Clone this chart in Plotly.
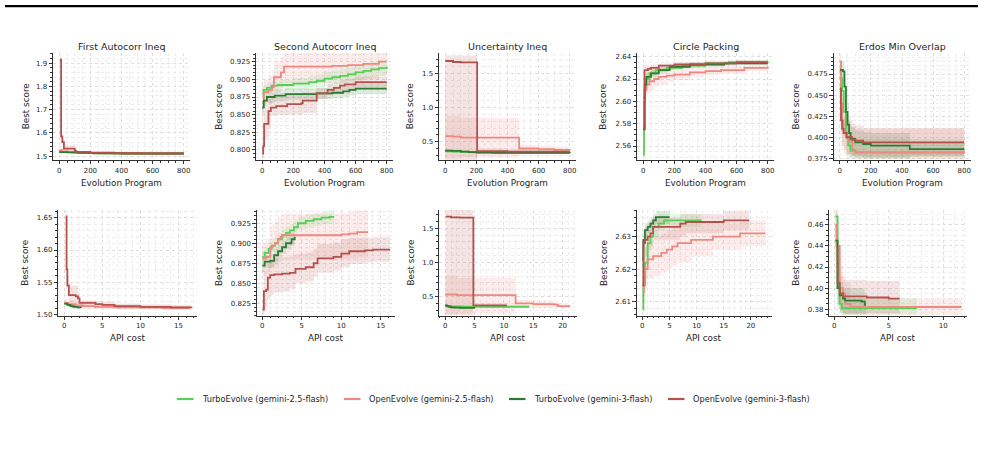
import plotly.graph_objects as go

# ---------------- data ----------------
SERIES = ["te25", "oe25", "te3", "oe3"]
SERIES_LABELS = {
    "te25": "TurboEvolve (gemini-2.5-flash)",
    "oe25": "OpenEvolve (gemini-2.5-flash)",
    "te3": "TurboEvolve (gemini-3-flash)",
    "oe3": "OpenEvolve (gemini-3-flash)",
}
TITLES = ["First Autocorr Ineq", "Second Autocorr Ineq", "Uncertainty Ineq",
          "Circle Packing", "Erdos Min Overlap"]
X_LABELS = ["Evolution Program", "API cost"]
Y_LABEL = "Best score"

# each series: (x, y, lower band, upper band)
FIRST_EVO = {
    "te25": ([0, 30, 80, 150, 250, 400, 800],
             [1.518, 1.517, 1.515, 1.513, 1.512, 1.511, 1.511],
             [1.516, 1.515, 1.513, 1.511, 1.510, 1.509, 1.509],
             [1.520, 1.519, 1.517, 1.515, 1.514, 1.513, 1.513]),
    "oe25": ([0, 20, 60, 100, 200, 350, 600, 800],
             [1.525, 1.520, 1.518, 1.515, 1.513, 1.512, 1.511, 1.511],
             [1.515, 1.514, 1.513, 1.511, 1.510, 1.509, 1.509, 1.509],
             [1.540, 1.530, 1.525, 1.520, 1.517, 1.515, 1.513, 1.513]),
    "te3": ([0, 50, 120, 220, 400, 800],
            [1.517, 1.516, 1.514, 1.512, 1.511, 1.511],
            [1.515, 1.514, 1.512, 1.510, 1.509, 1.509],
            [1.519, 1.518, 1.516, 1.514, 1.513, 1.513]),
    "oe3": ([5, 12, 20, 30, 100, 110, 200, 350, 500, 800],
            [1.915, 1.585, 1.560, 1.532, 1.522, 1.518, 1.515, 1.512, 1.511, 1.511],
            [1.900, 1.560, 1.545, 1.520, 1.515, 1.513, 1.511, 1.510, 1.509, 1.509],
            [1.930, 1.610, 1.575, 1.545, 1.530, 1.522, 1.518, 1.515, 1.513, 1.513]),
}
SECOND_EVO = {
    "te25": ([0, 10, 30, 60, 100, 200, 300, 350, 400, 450, 500, 550, 600, 650, 700, 750, 800],
             [0.880, 0.885, 0.888, 0.891, 0.892, 0.894, 0.896, 0.898, 0.901, 0.903, 0.905, 0.907, 0.910, 0.912, 0.914, 0.916, 0.918],
             [0.872, 0.877, 0.881, 0.884, 0.885, 0.886, 0.887, 0.889, 0.891, 0.893, 0.895, 0.896, 0.899, 0.901, 0.903, 0.905, 0.907],
             [0.888, 0.893, 0.895, 0.898, 0.899, 0.902, 0.905, 0.907, 0.911, 0.913, 0.915, 0.918, 0.921, 0.923, 0.925, 0.927, 0.929]),
    "oe25": ([0, 10, 40, 65, 75, 120, 140, 300, 450, 550, 650, 750, 800],
             [0.868, 0.882, 0.885, 0.889, 0.903, 0.910, 0.918, 0.918, 0.919, 0.920, 0.922, 0.925, 0.925],
             [0.845, 0.860, 0.865, 0.870, 0.880, 0.888, 0.895, 0.895, 0.897, 0.898, 0.900, 0.905, 0.905],
             [0.890, 0.900, 0.905, 0.910, 0.925, 0.932, 0.937, 0.937, 0.937, 0.937, 0.938, 0.940, 0.940]),
    "te3": ([0, 10, 30, 80, 150, 350, 450, 520, 560, 600, 800],
            [0.860, 0.870, 0.875, 0.877, 0.879, 0.880, 0.881, 0.883, 0.885, 0.887, 0.887],
            [0.852, 0.862, 0.867, 0.869, 0.871, 0.872, 0.873, 0.875, 0.877, 0.879, 0.879],
            [0.868, 0.878, 0.883, 0.885, 0.887, 0.888, 0.889, 0.891, 0.893, 0.895, 0.895]),
    "oe3": ([0, 6, 12, 40, 55, 90, 160, 250, 260, 350, 420, 460, 500, 530, 600, 800],
            [0.795, 0.805, 0.837, 0.855, 0.860, 0.862, 0.865, 0.866, 0.870, 0.880, 0.885, 0.888, 0.891, 0.893, 0.896, 0.896],
            [0.785, 0.790, 0.815, 0.830, 0.848, 0.850, 0.850, 0.850, 0.852, 0.872, 0.877, 0.880, 0.883, 0.885, 0.888, 0.888],
            [0.805, 0.820, 0.860, 0.872, 0.875, 0.876, 0.878, 0.879, 0.882, 0.888, 0.893, 0.896, 0.899, 0.901, 0.904, 0.904]),
}
UNCERT_EVO = {
    "te25": ([0, 50, 100, 200, 400, 800],
             [0.360, 0.355, 0.350, 0.345, 0.342, 0.340],
             [0.340, 0.335, 0.330, 0.330, 0.328, 0.326],
             [0.380, 0.375, 0.370, 0.360, 0.356, 0.354]),
    "oe25": ([0, 50, 100, 475, 600, 700, 800],
             [0.580, 0.575, 0.560, 0.400, 0.390, 0.380, 0.370],
             [0.250, 0.250, 0.270, 0.330, 0.330, 0.330, 0.330],
             [0.880, 0.880, 0.850, 0.450, 0.440, 0.430, 0.410]),
    "te3": ([0, 40, 100, 150, 200, 300, 800],
            [0.370, 0.365, 0.355, 0.348, 0.340, 0.336, 0.335],
            [0.350, 0.345, 0.337, 0.330, 0.325, 0.322, 0.320],
            [0.390, 0.385, 0.373, 0.366, 0.355, 0.350, 0.350]),
    "oe3": ([0, 50, 100, 205, 400, 800],
            [1.680, 1.665, 1.660, 0.360, 0.355, 0.355],
            [0.230, 0.230, 0.230, 0.330, 0.330, 0.330],
            [1.760, 1.760, 1.760, 0.400, 0.390, 0.390]),
}
CIRCLE_EVO = {
    "te25": ([0, 5, 10, 20, 40, 80, 150, 250, 400, 550, 800],
             [2.552, 2.600, 2.612, 2.620, 2.625, 2.628, 2.630, 2.632, 2.634, 2.635, 2.636],
             [2.545, 2.590, 2.605, 2.615, 2.621, 2.625, 2.628, 2.630, 2.632, 2.634, 2.635],
             [2.560, 2.610, 2.619, 2.625, 2.629, 2.631, 2.632, 2.634, 2.636, 2.637, 2.637]),
    "oe25": ([0, 8, 20, 40, 70, 100, 150, 200, 300, 400, 450, 500, 650, 800],
             [2.603, 2.610, 2.615, 2.618, 2.620, 2.622, 2.623, 2.624, 2.626, 2.627, 2.627, 2.628, 2.630, 2.631],
             [2.595, 2.600, 2.607, 2.610, 2.613, 2.615, 2.617, 2.619, 2.622, 2.623, 2.624, 2.625, 2.627, 2.628],
             [2.610, 2.620, 2.623, 2.626, 2.627, 2.629, 2.629, 2.629, 2.630, 2.631, 2.631, 2.632, 2.633, 2.634]),
    "te3": ([0, 10, 20, 50, 100, 170, 300, 520, 800],
            [2.575, 2.615, 2.622, 2.625, 2.628, 2.631, 2.633, 2.634, 2.634],
            [2.570, 2.610, 2.618, 2.622, 2.626, 2.629, 2.631, 2.633, 2.633],
            [2.580, 2.620, 2.626, 2.628, 2.630, 2.633, 2.635, 2.635, 2.635]),
    "oe3": ([0, 8, 30, 50, 100, 200, 400, 600, 800],
            [2.576, 2.628, 2.629, 2.630, 2.632, 2.633, 2.634, 2.635, 2.635],
            [2.570, 2.622, 2.624, 2.626, 2.628, 2.630, 2.632, 2.633, 2.633],
            [2.585, 2.632, 2.632, 2.633, 2.634, 2.635, 2.636, 2.637, 2.637]),
}
ERDOS_EVO = {
    "te25": ([0, 15, 25, 40, 55, 70, 100, 800],
             [0.470, 0.455, 0.430, 0.400, 0.390, 0.384, 0.382, 0.382],
             [0.460, 0.430, 0.400, 0.380, 0.375, 0.375, 0.375, 0.375],
             [0.480, 0.475, 0.460, 0.420, 0.405, 0.400, 0.398, 0.398]),
    "oe25": ([0, 8, 15, 25, 40, 60, 80, 100, 800],
             [0.490, 0.440, 0.420, 0.405, 0.400, 0.395, 0.385, 0.382, 0.381],
             [0.470, 0.410, 0.390, 0.380, 0.378, 0.375, 0.374, 0.374, 0.374],
             [0.500, 0.470, 0.450, 0.430, 0.420, 0.415, 0.410, 0.410, 0.410]),
    "te3": ([0, 20, 30, 40, 50, 60, 70, 100, 150, 200, 450, 800],
            [0.480, 0.478, 0.460, 0.430, 0.415, 0.405, 0.398, 0.394, 0.392, 0.390, 0.386, 0.386],
            [0.470, 0.460, 0.430, 0.400, 0.390, 0.380, 0.378, 0.376, 0.375, 0.375, 0.378, 0.378],
            [0.490, 0.490, 0.480, 0.460, 0.440, 0.425, 0.412, 0.408, 0.406, 0.405, 0.394, 0.394]),
    "oe3": ([0, 8, 15, 25, 45, 80, 100, 150, 800],
            [0.458, 0.420, 0.410, 0.405, 0.400, 0.397, 0.396, 0.394, 0.394],
            [0.440, 0.400, 0.390, 0.385, 0.380, 0.378, 0.378, 0.377, 0.377],
            [0.475, 0.440, 0.430, 0.425, 0.420, 0.416, 0.414, 0.411, 0.411]),
}
FIRST_API = {
    "te25": ([0, 0.5, 1.0, 1.6],
             [1.517, 1.515, 1.513, 1.512],
             [1.515, 1.513, 1.511, 1.510],
             [1.519, 1.517, 1.515, 1.514]),
    "oe25": ([0, 0.5, 1.5, 2.5, 4, 7, 10, 13, 16.5],
             [1.518, 1.516, 1.514, 1.513, 1.512, 1.511, 1.511, 1.510, 1.510],
             [1.512, 1.511, 1.510, 1.509, 1.508, 1.508, 1.508, 1.507, 1.507],
             [1.524, 1.522, 1.519, 1.517, 1.516, 1.515, 1.514, 1.513, 1.513]),
    "te3": ([0, 0.4, 0.8, 1.2, 1.7, 2.2],
            [1.517, 1.515, 1.513, 1.512, 1.511, 1.510],
            [1.515, 1.513, 1.511, 1.510, 1.509, 1.508],
            [1.519, 1.517, 1.515, 1.514, 1.513, 1.512]),
    "oe3": ([0.2, 0.3, 0.4, 0.6, 1.5, 1.8, 2.0, 4.1, 5.0, 6.6, 10, 14, 16.7],
            [1.652, 1.570, 1.545, 1.530, 1.528, 1.525, 1.518, 1.516, 1.515, 1.513, 1.512, 1.511, 1.510],
            [1.640, 1.550, 1.530, 1.518, 1.516, 1.514, 1.512, 1.511, 1.510, 1.509, 1.508, 1.508, 1.507],
            [1.660, 1.590, 1.560, 1.545, 1.545, 1.535, 1.522, 1.521, 1.520, 1.517, 1.516, 1.515, 1.513]),
}
SECOND_API = {
    "te25": ([0, 0.3, 0.8, 1.2, 1.6, 2.0, 2.5, 3.0, 3.5, 4.0, 4.5, 5.5, 6.5, 7.5, 8.5, 9.1],
             [0.883, 0.888, 0.893, 0.897, 0.900, 0.905, 0.910, 0.913, 0.916, 0.920, 0.925, 0.928, 0.930, 0.932, 0.933, 0.933],
             [0.875, 0.880, 0.885, 0.889, 0.892, 0.897, 0.902, 0.905, 0.908, 0.912, 0.917, 0.920, 0.922, 0.924, 0.925, 0.925],
             [0.891, 0.896, 0.901, 0.905, 0.908, 0.913, 0.918, 0.921, 0.924, 0.928, 0.933, 0.936, 0.938, 0.940, 0.941, 0.941]),
    "oe25": ([0, 0.5, 1.0, 1.3, 1.6, 2.0, 2.3, 2.6, 5, 10, 11, 12, 13.4],
             [0.881, 0.883, 0.895, 0.897, 0.900, 0.905, 0.908, 0.910, 0.910, 0.911, 0.912, 0.914, 0.914],
             [0.860, 0.862, 0.868, 0.870, 0.872, 0.876, 0.878, 0.880, 0.880, 0.880, 0.881, 0.882, 0.882],
             [0.900, 0.905, 0.920, 0.925, 0.928, 0.932, 0.935, 0.937, 0.937, 0.938, 0.940, 0.941, 0.941]),
    "te3": ([0, 0.3, 1.0, 1.5, 2.0, 2.5, 3.0, 3.7, 4.1],
            [0.872, 0.877, 0.878, 0.885, 0.890, 0.895, 0.900, 0.905, 0.908],
            [0.864, 0.869, 0.870, 0.877, 0.882, 0.887, 0.892, 0.897, 0.900],
            [0.880, 0.885, 0.886, 0.893, 0.898, 0.903, 0.908, 0.913, 0.916]),
    "oe3": ([0, 0.2, 0.5, 0.7, 1.0, 1.5, 2.5, 3.5, 4.2, 5.5, 6.5, 7.0, 9.0, 10.0, 11.0, 13.0, 14.0, 16.2],
            [0.817, 0.840, 0.842, 0.857, 0.860, 0.861, 0.862, 0.863, 0.868, 0.870, 0.875, 0.881, 0.883, 0.887, 0.890, 0.891, 0.892, 0.892],
            [0.810, 0.815, 0.820, 0.830, 0.835, 0.838, 0.840, 0.843, 0.850, 0.852, 0.858, 0.863, 0.866, 0.870, 0.874, 0.876, 0.877, 0.877],
            [0.830, 0.865, 0.868, 0.875, 0.880, 0.882, 0.883, 0.885, 0.887, 0.888, 0.893, 0.899, 0.901, 0.905, 0.907, 0.907, 0.908, 0.908]),
}
UNCERT_API = {
    "te25": ([0, 1, 3, 6, 10, 14.3],
             [0.360, 0.355, 0.352, 0.350, 0.350, 0.350],
             [0.340, 0.335, 0.333, 0.332, 0.332, 0.332],
             [0.380, 0.375, 0.370, 0.368, 0.368, 0.368]),
    "oe25": ([0, 2, 12, 15, 18.5, 19.2, 21.3],
             [0.530, 0.520, 0.400, 0.390, 0.380, 0.360, 0.360],
             [0.240, 0.250, 0.330, 0.330, 0.330, 0.330, 0.330],
             [0.810, 0.770, 0.450, 0.440, 0.420, 0.390, 0.390]),
    "te3": ([0, 0.3, 0.6, 1.0, 1.5, 2.5, 5.0],
            [0.370, 0.360, 0.350, 0.342, 0.337, 0.333, 0.330],
            [0.350, 0.340, 0.330, 0.325, 0.320, 0.317, 0.315],
            [0.390, 0.380, 0.370, 0.360, 0.355, 0.350, 0.345]),
    "oe3": ([0.1, 1.0, 2.5, 4.8, 10.5],
            [1.670, 1.660, 1.655, 0.370, 0.370],
            [0.230, 0.230, 0.230, 0.340, 0.340],
            [1.780, 1.780, 1.780, 0.400, 0.400]),
}
CIRCLE_API = {
    "te25": ([0.1, 0.2, 0.5, 1.0, 1.5, 2.0, 3.0, 4.0, 10.9],
             [2.6075, 2.615, 2.622, 2.628, 2.630, 2.633, 2.634, 2.635, 2.635],
             [2.605, 2.610, 2.617, 2.623, 2.626, 2.630, 2.632, 2.633, 2.633],
             [2.610, 2.620, 2.627, 2.632, 2.634, 2.636, 2.637, 2.637, 2.637]),
    "oe25": ([0.1, 0.3, 0.5, 1.0, 2.0, 3.5, 4.5, 5.5, 6.5, 9.0, 13.0, 18.0, 22.7],
             [2.613, 2.618, 2.620, 2.623, 2.624, 2.625, 2.626, 2.627, 2.628, 2.629, 2.630, 2.631, 2.631],
             [2.608, 2.612, 2.614, 2.617, 2.618, 2.619, 2.620, 2.621, 2.622, 2.624, 2.626, 2.627, 2.627],
             [2.618, 2.624, 2.626, 2.629, 2.630, 2.631, 2.632, 2.633, 2.634, 2.634, 2.634, 2.635, 2.635]),
    "te3": ([0, 0.2, 0.5, 1.0, 1.5, 2.0, 2.5, 5.0],
            [2.623, 2.629, 2.632, 2.633, 2.634, 2.635, 2.636, 2.636],
            [2.620, 2.626, 2.629, 2.631, 2.632, 2.633, 2.634, 2.634],
            [2.626, 2.632, 2.634, 2.635, 2.636, 2.637, 2.638, 2.638]),
    "oe3": ([0, 0.2, 0.5, 1.0, 1.5, 2.0, 6.5, 7.0, 8.0, 15.0, 19.7],
            [2.615, 2.628, 2.629, 2.630, 2.631, 2.633, 2.633, 2.634, 2.6345, 2.635, 2.635],
            [2.610, 2.622, 2.624, 2.626, 2.627, 2.629, 2.629, 2.630, 2.631, 2.632, 2.632],
            [2.620, 2.632, 2.633, 2.634, 2.635, 2.636, 2.636, 2.637, 2.637, 2.638, 2.638]),
}
ERDOS_API = {
    "te25": ([0.1, 0.3, 0.5, 0.7, 7.6],
             [0.468, 0.400, 0.385, 0.381, 0.381],
             [0.455, 0.385, 0.376, 0.375, 0.375],
             [0.475, 0.415, 0.395, 0.390, 0.390]),
    "oe25": ([0.1, 0.2, 0.5, 0.8, 1.0, 1.5, 11.7],
             [0.460, 0.440, 0.400, 0.395, 0.385, 0.382, 0.382],
             [0.440, 0.415, 0.380, 0.376, 0.375, 0.375, 0.375],
             [0.475, 0.465, 0.420, 0.412, 0.405, 0.390, 0.388]),
    "te3": ([0.1, 0.3, 0.5, 0.8, 1.0, 2.5, 2.8, 2.9],
            [0.445, 0.400, 0.393, 0.390, 0.388, 0.387, 0.384, 0.384],
            [0.430, 0.380, 0.376, 0.375, 0.375, 0.375, 0.375, 0.375],
            [0.460, 0.420, 0.405, 0.400, 0.400, 0.400, 0.395, 0.395]),
    "oe3": ([0.2, 0.3, 0.5, 0.8, 3.0, 5.0, 6.0],
            [0.438, 0.405, 0.395, 0.392, 0.391, 0.390, 0.390],
            [0.420, 0.385, 0.378, 0.376, 0.376, 0.376, 0.376],
            [0.475, 0.430, 0.412, 0.408, 0.407, 0.407, 0.407]),
}

PANELS = [FIRST_EVO, SECOND_EVO, UNCERT_EVO, CIRCLE_EVO, ERDOS_EVO,
          FIRST_API, SECOND_API, UNCERT_API, CIRCLE_API, ERDOS_API]

# ---------------- style / layout ----------------
W, H = 985, 456
FONT = "DejaVu Sans"
TXT = "#262626"
COLORS = {"te25": "#55cf55", "oe25": "#ee8982", "te3": "#2e7a30", "oe3": "#b4514d"}
BAND = {"te25": "rgba(85,207,85,0.15)", "oe25": "rgba(238,137,130,0.15)",
        "te3": "rgba(46,122,48,0.15)", "oe3": "rgba(180,81,77,0.15)"}

# plot-area pixel boxes (left, right, top, bottom)
BOXES = [
    (53, 190, 53, 160), (256, 393, 53, 160), (439, 576, 53, 160), (637, 774, 53, 160), (833.5, 970.5, 53, 160),
    (58.3, 196.7, 210, 315.5), (256.7, 395, 210, 315.5), (439.3, 576.7, 210, 315.5), (636.7, 771.5, 210, 315.5), (829.3, 966.7, 210, 315.5),
]
XRANGES = [[-40, 840]] * 5 + [[-0.79, 17.4], [-0.71, 16.8], [-1.0, 22.4], [-1.03, 23.8], [-0.46, 12.16]]
YRANGES = [[1.483, 1.944], [0.7858, 0.9373], [0.232, 1.797], [2.5475, 2.6433], [0.373, 0.4999],
           [1.4985, 1.662], [0.8096, 0.9416], [0.222, 1.768], [2.6057, 2.6382], [0.3739, 0.4742]]
XTICK = [(200, 50)] * 5 + [(5, 1)] * 5
YTICK = [(0.1, 0.02, ".1f"), (0.025, 0.005, ".3f"), (0.5, 0.1, ".1f"), (0.02, 0.005, ".2f"), (0.025, 0.005, ".3f"),
         (0.05, 0.01, ".2f"), (0.025, 0.005, ".3f"), (0.5, 0.1, ".1f"), (0.01, 0.002, ".2f"), (0.02, 0.005, ".2f")]
YLAB_X = [26.7, 219.3, 410.7, 603.3, 796, 25, 218.3, 410.7, 603.3, 796]

fig = go.Figure()
layout = dict(width=W, height=H, margin=dict(l=0, r=0, t=0, b=0),
              paper_bgcolor="white", plot_bgcolor="white", showlegend=False,
              template="none", font=dict(family=FONT, color=TXT, size=7))
annotations = []
shapes = []

for i, panel in enumerate(PANELS):
    n = i + 1
    xa = "x" if n == 1 else f"x{n}"
    ya = "y" if n == 1 else f"y{n}"
    l, r, t, b = BOXES[i]
    axis_common = dict(showline=True, linecolor="#333333", linewidth=0.9, mirror=False,
                       ticks="outside", ticklen=3.5, tickwidth=0.8, tickcolor="#333333",
                       tickfont=dict(family=FONT, size=7, color=TXT), zeroline=False,
                       showgrid=True, gridcolor="#dedede", gridwidth=0.6, griddash="dot",
                       automargin=False, fixedrange=True)
    minor_common = dict(ticks="outside", ticklen=2, tickwidth=0.6, tickcolor="#333333",
                        showgrid=True, gridcolor="#ededed", gridwidth=0.5, griddash="dot")
    layout["xaxis" if n == 1 else f"xaxis{n}"] = dict(
        axis_common, domain=[l / W, r / W], anchor=ya, range=XRANGES[i],
        tick0=0, dtick=XTICK[i][0],
        minor=dict(minor_common, dtick=XTICK[i][1], tick0=0))
    layout["yaxis" if n == 1 else f"yaxis{n}"] = dict(
        axis_common, domain=[1 - b / H, 1 - t / H], anchor=xa, range=YRANGES[i],
        tick0=0, dtick=YTICK[i][0], tickformat=YTICK[i][2],
        minor=dict(minor_common, dtick=YTICK[i][1], tick0=0))

    # bands
    for s in SERIES:
        x, y, lo, hi = panel[s]
        fig.add_trace(go.Scatter(x=x, y=lo, mode="lines", line=dict(width=0, shape="hv"),
                                 xaxis=xa, yaxis=ya, hoverinfo="skip"))
        fig.add_trace(go.Scatter(x=x, y=hi, mode="lines", line=dict(width=0, shape="hv"),
                                 fill="tonexty", fillcolor=BAND[s],
                                 xaxis=xa, yaxis=ya, hoverinfo="skip"))
    # lines
    for s in SERIES:
        x, y, lo, hi = panel[s]
        fig.add_trace(go.Scatter(x=x, y=y, mode="lines", name=SERIES_LABELS[s],
                                 line=dict(color=COLORS[s], width=1.8, shape="hv"),
                                 xaxis=xa, yaxis=ya))

    cx = (l + r) / 2
    row = 0 if i < 5 else 1
    if row == 0:
        annotations.append(dict(text=TITLES[i], x=cx / W, y=1 - 46.7 / H, xref="paper", yref="paper",
                                showarrow=False, xanchor="center", yanchor="middle",
                                font=dict(family=FONT, size=9.5, color=TXT)))
    annotations.append(dict(text=X_LABELS[row], x=cx / W, y=1 - (183 if row == 0 else 338) / H,
                            xref="paper", yref="paper", showarrow=False, xanchor="center", yanchor="middle",
                            font=dict(family=FONT, size=8.8, color=TXT)))
    annotations.append(dict(text=Y_LABEL, x=YLAB_X[i] / W, y=1 - ((t + b) / 2) / H,
                            xref="paper", yref="paper", showarrow=False, xanchor="center", yanchor="middle",
                            textangle=-90, font=dict(family=FONT, size=8.8, color=TXT)))

# custom legend
LEG_X = [177, 344, 509, 668]
LEG_Y = 399
for k, s in enumerate(SERIES):
    x0 = LEG_X[k]
    shapes.append(dict(type="line", xref="paper", yref="paper",
                       x0=x0 / W, x1=(x0 + 16.5) / W, y0=1 - LEG_Y / H, y1=1 - LEG_Y / H,
                       line=dict(color=COLORS[s], width=2.2)))
    annotations.append(dict(text=SERIES_LABELS[s], x=(x0 + 23) / W, y=1 - LEG_Y / H,
                            xref="paper", yref="paper", showarrow=False, xanchor="left", yanchor="middle",
                            font=dict(family=FONT, size=8.2, color=TXT)))

# top rule
shapes.append(dict(type="line", xref="paper", yref="paper", x0=5 / W, x1=978 / W,
                   y0=1 - 6.2 / H, y1=1 - 6.2 / H, line=dict(color="black", width=2.2)))

layout["annotations"] = annotations
layout["shapes"] = shapes
fig.update_layout(**layout)
fig.write_html("out.html")
